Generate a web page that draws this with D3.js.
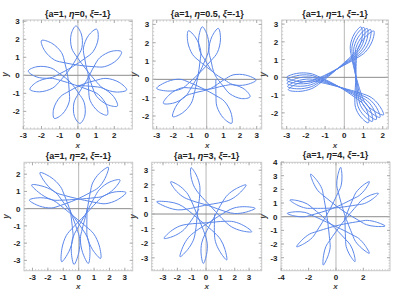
<!DOCTYPE html>
<html>
<head>
<meta charset="utf-8">
<script src="https://cdn.jsdelivr.net/npm/d3@7"></script>
<style>
body{margin:0;background:#fff;}
text{font-family:"Liberation Sans",Arial,sans-serif;}
</style>
</head>
<body>
<svg id="plots" width="407" height="301"></svg>
<script>
// eta value in each title
const etas = ["0", "0.5", "1", "2", "3", "4"];

// tick labels per panel
const xTicks1 = [-3, -2, -1, 0, 1, 2], yTicks1 = [-2, -1, 0, 1, 2, 3];
const xTicks2 = [-3, -2, -1, 0, 1, 2, 3], yTicks2 = [-2, -1, 0, 1, 2, 3];
const xTicks3 = [-3, -2, -1, 0, 1, 2], yTicks3 = [-2, -1, 0, 1, 2, 3];
const xTicks4 = [-3, -2, -1, 0, 1, 2, 3], yTicks4 = [-3, -2, -1, 0, 1, 2];
const xTicks5 = [-3, -2, -1, 0, 1, 2, 3], yTicks5 = [-3, -2, -1, 0, 1, 2, 3];
const xTicks6 = [-4, -2, 0, 2], yTicks6 = [-3, -2, -1, 0, 1, 2, 3, 4];

// curve points, in drawing order: [angle in degrees, distance from origin]
// each petal: crossing, side, side, tip, side, side, crossing, then the closest pass to the centre
const curve1 = [
  [268.9,.56],
  [321.9,1],[332.4,1.55],[328.9,2.3],[321.9,2.76],[314.9,2.3],[311.4,1.55],[321.9,1],[15,.56],
  [68.1,1],[78.6,1.55],[75.1,2.3],[68.1,2.76],[61.1,2.3],[57.6,1.55],[68.1,1],[121.6,.56],
  [175,1],[185.5,1.55],[182,2.3],[175,2.74],[168,2.3],[164.5,1.55],[175,1],[223.7,.56],
  [272.4,1],[282.9,1.55],[279.4,2.3],[272.4,2.67],[265.4,2.3],[261.9,1.55],[272.4,1],[330.5,.56],
  [28.6,1],[39.1,1.55],[35.6,2.3],[28.6,2.73],[21.6,2.3],[18.1,1.55],[28.6,1],[82.3,.56],
  [136,1],[146.5,1.55],[143,2.3],[136,2.78],[129,2.3],[125.5,1.55],[136,1],[188.8,.56],
  [241.5,1],[252,1.55],[248.5,2.3],[241.5,2.72],[234.5,2.3],[231,1.55],[241.5,1],[292.4,.56],
  [343.2,1],[353.7,1.55],[350.2,2.3],[343.2,2.8],[336.2,2.3],[332.7,1.55],[343.2,1],[37.8,.56],
  [92.3,1],[102.8,1.55],[99.3,2.3],[92.3,2.74],[85.3,2.3],[81.8,1.55],[92.3,1],[144.4,.56],
  [196.5,1],[207,1.55],[203.5,2.3],[196.5,2.75],[189.5,2.3],[186,1.55],[196.5,1],[251.4,.56],
  [306.2,1],[316.7,1.55],[313.2,2.3],[306.2,2.73],[299.2,2.3],[295.7,1.55],[306.2,1],[359.2,.56]
];
const curve2 = [
  [55,.55],
  [112.5,1.05],[122,1.6],[119,2.35],[112.5,2.87],[106,2.35],[103,1.6],[112.5,1.05],[168.8,.55],
  [225,1.05],[234.5,1.6],[231.5,2.35],[225,2.88],[218.5,2.35],[215.5,1.6],[225,1.05],[292.1,.55],
  [359.2,1.05],[8.7,1.6],[5.7,2.35],[359.2,2.96],[352.7,2.35],[349.7,1.6],[359.2,1.05],[47.2,.55],
  [95.2,1.05],[104.7,1.6],[101.7,2.35],[95.2,2.88],[88.7,2.35],[85.7,1.6],[95.2,1.05],[151,.55],
  [206.7,1.05],[216.2,1.6],[213.2,2.35],[206.7,2.91],[200.2,2.35],[197.2,1.6],[206.7,1.05],[273.3,.55],
  [339.9,1.05],[349.4,1.6],[346.4,2.35],[339.9,2.77],[333.4,2.35],[330.4,1.6],[339.9,1.05],[27.9,.55],
  [75.9,1.05],[85.4,1.6],[82.4,2.35],[75.9,2.87],[69.4,2.35],[66.4,1.6],[75.9,1.05],[132.6,.55],
  [189.3,1.05],[198.8,1.6],[195.8,2.35],[189.3,3.04],[182.8,2.35],[179.8,1.6],[189.3,1.05],[245.7,.55],
  [302,1.05],[311.5,1.6],[308.5,2.35],[302,2.83],[295.5,2.35],[292.5,1.6],[302,1.05],[359.5,.55]
];
const curve3 = [
  [359.5,.6],
  [59.5,1.25],[66.5,1.8],[64.5,2.5],[59.5,3.03],[54.5,2.5],[52.5,1.8],[59.5,1.25],[119.8,.6],
  [180,1.25],[187,1.8],[185,2.5],[180,3],[175,2.5],[173,1.8],[180,1.25],[238,.6],
  [296,1.25],[303,1.8],[301,2.4],[296,2.85],[291,2.4],[289,1.8],[296,1.25],[359.5,.6],
  [63,1.25],[70,1.8],[68,2.5],[63,3.02],[58,2.5],[56,1.8],[63,1.25],[123,.6],
  [183,1.25],[190,1.8],[188,2.5],[183,3],[178,2.5],[176,1.8],[183,1.25],[241.8,.6],
  [300.5,1.25],[307.5,1.8],[305.5,2.4],[300.5,2.88],[295.5,2.4],[293.5,1.8],[300.5,1.25],[3.5,.6],
  [66.5,1.25],[73.5,1.8],[71.5,2.5],[66.5,3],[61.5,2.5],[59.5,1.8],[66.5,1.25],[126.5,.6],
  [186.5,1.25],[193.5,1.8],[191.5,2.5],[186.5,3],[181.5,2.5],[179.5,1.8],[186.5,1.25],[245.8,.6],
  [305,1.25],[312,1.8],[310,2.4],[305,2.9],[300,2.4],[298,1.8],[305,1.25],[7.5,.6],
  [70,1.25],[77,1.8],[75,2.5],[70,2.99],[65,2.5],[63,1.8],[70,1.25],[130,.6],
  [190,1.25],[197,1.8],[195,2.5],[190,3],[185,2.5],[183,1.8],[190,1.25],[249.8,.6],
  [309.5,1.25],[316.5,1.8],[314.5,2.4],[309.5,2.92],[304.5,2.4],[302.5,1.8],[309.5,1.25],[11.3,.6],
  [73,1.25],[80,1.8],[78,2.5],[73,2.97],[68,2.5],[66,1.8],[73,1.25],[133.3,.6],
  [193.5,1.25],[200.5,1.8],[198.5,2.5],[193.5,3],[188.5,2.5],[186.5,1.8],[193.5,1.25],[253.8,.6],
  [314,1.25],[321,1.8],[319,2.4],[314,2.94],[309,2.4],[307,1.8],[314,1.25],[14,.6]
];
const curve4 = [
  [187.8,.55],
  [250.3,1.2],[257.8,1.75],[255.8,2.55],[250.3,3.27],[244.8,2.55],[242.8,1.75],[250.3,1.2],[313.6,.55],
  [16.9,1.2],[24.4,1.75],[22.4,2.55],[16.9,3.21],[11.4,2.55],[9.4,1.75],[16.9,1.2],[78.6,.55],
  [140.2,1.2],[147.7,1.75],[145.7,2.55],[140.2,3.27],[134.7,2.55],[132.7,1.75],[140.2,1.2],[202.5,.55],
  [264.7,1.2],[272.2,1.75],[270.2,2.55],[264.7,3.25],[259.2,2.55],[257.2,1.75],[264.7,1.2],[328.3,.55],
  [31.9,1.2],[39.4,1.75],[37.4,2.55],[31.9,3.16],[26.4,2.55],[24.4,1.75],[31.9,1.2],[93.8,.55],
  [155.7,1.2],[163.2,1.75],[161.2,2.55],[155.7,3.35],[150.2,2.55],[148.2,1.75],[155.7,1.2],[218.5,.55],
  [281.2,1.2],[288.7,1.75],[286.7,2.55],[281.2,3.24],[275.7,2.55],[273.7,1.75],[281.2,1.2],[346.2,.55],
  [51.2,1.2],[58.7,1.75],[56.7,2.45],[51.2,3.08],[45.7,2.45],[43.7,1.75],[51.2,1.2],[111.2,.55],
  [171.1,1.2],[178.6,1.75],[176.6,2.55],[171.1,3.24],[165.6,2.55],[163.6,1.75],[171.1,1.2],[233.7,.55],
  [296.3,1.2],[303.8,1.75],[301.8,2.55],[296.3,3.22],[290.8,2.55],[288.8,1.75],[296.3,1.2],[358.8,.55]
];
const curve5 = [
  [145,.6],
  [209.7,1.4],[215.2,2],[213.7,2.75],[209.7,3.37],[205.7,2.75],[204.2,2],[209.7,1.4],[274.5,.6],
  [339.2,1.4],[344.7,2],[343.2,2.75],[339.2,3.41],[335.2,2.75],[333.7,2],[339.2,1.4],[43.8,.6],
  [108.3,1.4],[113.8,2],[112.3,2.75],[108.3,3.34],[104.3,2.75],[102.8,2],[108.3,1.4],[173.3,.6],
  [238.2,1.4],[243.7,2],[242.2,2.75],[238.2,3.44],[234.2,2.75],[232.7,2],[238.2,1.4],[302.4,.6],
  [6.5,1.4],[12,2],[10.5,2.75],[6.5,3.44],[2.5,2.75],[1,2],[6.5,1.4],[72.4,.6],
  [138.2,1.4],[143.7,2],[142.2,2.75],[138.2,3.31],[134.2,2.75],[132.7,2],[138.2,1.4],[202.5,.6],
  [266.8,1.4],[272.3,2],[270.8,2.75],[266.8,3.39],[262.8,2.75],[261.3,2],[266.8,1.4],[331.2,.6],
  [35.5,1.4],[41,2],[39.5,2.75],[35.5,3.43],[31.5,2.75],[30,2],[35.5,1.4],[100.9,.6],
  [166.3,1.4],[171.8,2],[170.3,2.75],[166.3,3.54],[162.3,2.75],[160.8,2],[166.3,1.4],[230.5,.6],
  [294.6,1.4],[300.1,2],[298.6,2.75],[294.6,3.46],[290.6,2.75],[289.1,2],[294.6,1.4],[359.3,.6]
];
const curve6 = [
  [340.1,.65],
  [46.4,1.8],[50.4,2.3],[49.4,3],[46.4,3.54],[43.4,3],[42.4,2.3],[46.4,1.8],[111.3,.65],
  [176.1,1.8],[180.1,2.3],[179.1,3],[176.1,3.57],[173.1,3],[172.1,2.3],[176.1,1.8],[244.2,.65],
  [312.3,1.8],[316.3,2.3],[315.3,3],[312.3,3.62],[309.3,3],[308.3,2.3],[312.3,1.8],[18.5,.65],
  [84.6,1.8],[88.6,2.3],[87.6,3],[84.6,3.63],[81.6,3],[80.6,2.3],[84.6,1.8],[151,.65],
  [217.4,1.8],[221.4,2.3],[220.4,3],[217.4,3.62],[214.4,3],[213.4,2.3],[217.4,1.8],[283.4,.65],
  [349.3,1.8],[353.3,2.3],[352.3,3],[349.3,3.65],[346.3,3],[345.3,2.3],[349.3,1.8],[55,.65],
  [120.7,1.8],[124.7,2.3],[123.7,3],[120.7,3.63],[117.7,3],[116.7,2.3],[120.7,1.8],[188,.65],
  [255.3,1.8],[259.3,2.3],[258.3,3],[255.3,3.66],[252.3,3],[251.3,2.3],[255.3,1.8],[322.1,.65],
  [28.9,1.8],[32.9,2.3],[31.9,3],[28.9,3.54],[25.9,3],[24.9,2.3],[28.9,1.8],[94.5,.65],
  [160.1,1.8],[164.1,2.3],[163.1,3],[160.1,3.58],[157.1,3],[156.1,2.3],[160.1,1.8],[226.5,.65],
  [292.9,1.8],[296.9,2.3],[295.9,3],[292.9,3.57],[289.9,3],[288.9,2.3],[292.9,1.8],[359.2,.65]
];

// frame box and plot range of every panel
const panels = [
  {eta: etas[0], pts: curve1, xt: xTicks1, yt: yTicks1, left: 23.3, top: 20, w: 109, h: 109, xd: [-3.0, 2.99], yd: [-2.98, 3.07], tt: 3.5},
  {eta: etas[1], pts: curve2, xt: xTicks2, yt: yTicks2, left: 152.7, top: 20, w: 109, h: 109, xd: [-3.24, 3.3], yd: [-2.71, 3.24], tt: 3.5},
  {eta: etas[2], pts: curve3, xt: xTicks3, yt: yTicks3, left: 281.7, top: 20, w: 106.6, h: 109, xd: [-3.26, 2.29], yd: [-2.91, 3.23], tt: 3.5},
  {eta: etas[3], pts: curve4, xt: xTicks4, yt: yTicks4, left: 24, top: 162.3, w: 108.7, h: 108.4, xd: [-3.55, 3.51], yd: [-3.6, 2.69], tt: 3.5},
  {eta: etas[4], pts: curve5, xt: xTicks5, yt: yTicks5, left: 151.7, top: 162.3, w: 110, h: 108.4, xd: [-3.79, 3.88], yd: [-3.88, 3.54], tt: 3.5},
  {eta: etas[5], pts: curve6, xt: xTicks6, yt: yTicks6, left: 281, top: 162.3, w: 109, h: 108.4, xd: [-4.02, 3.95], yd: [-3.95, 3.98], tt: 4.8}
];

const svg = d3.select("#plots");
svg.append("rect").attr("width", 407).attr("height", 301).attr("fill", "white");

panels.forEach(p => {
  const x = d3.scaleLinear().domain(p.xd).range([p.left, p.left + p.w]);
  const y = d3.scaleLinear().domain(p.yd).range([p.top + p.h, p.top]);
  const g = svg.append("g");
  const bottom = p.top + p.h, right = p.left + p.w;

  // axes through the origin
  g.append("line").attr("x1", x(0)).attr("x2", x(0)).attr("y1", p.top).attr("y2", bottom)
    .attr("stroke", "#b8b8b8").attr("stroke-width", 1);
  g.append("line").attr("x1", p.left).attr("x2", right).attr("y1", y(0)).attr("y2", y(0))
    .attr("stroke", "#8c8c8c").attr("stroke-width", 1);

  // the curve
  const rad = Math.PI / 180;
  const line = d3.line()
    .x(d => x(d[1] * Math.cos(d[0] * rad)))
    .y(d => y(d[1] * Math.sin(d[0] * rad)))
    .curve(d3.curveCatmullRom.alpha(0.5));
  g.append("path").attr("d", line(p.pts)).attr("fill", "none")
    .attr("stroke", "#5b87ea").attr("stroke-width", 1);

  // frame
  g.append("rect").attr("x", p.left).attr("y", p.top).attr("width", p.w).attr("height", p.h)
    .attr("fill", "none").attr("stroke", "#c8c8c8").attr("stroke-width", 1);

  // minor and major ticks, pointing inward on all four sides
  const tick = (x1, y1, x2, y2, c) => g.append("line").attr("x1", x1).attr("y1", y1).attr("x2", x2).attr("y2", y2)
    .attr("stroke", c).attr("stroke-width", 1);
  x.ticks(30).forEach(v => { tick(x(v), bottom, x(v), bottom - 1.5, "#c8c8c8"); tick(x(v), p.top, x(v), p.top + 1.5, "#c8c8c8"); });
  y.ticks(30).forEach(v => { tick(p.left, y(v), p.left + 1.5, y(v), "#c8c8c8"); tick(right, y(v), right - 1.5, y(v), "#c8c8c8"); });
  p.xt.forEach(v => { tick(x(v), bottom, x(v), bottom - 3, "#aaa"); tick(x(v), p.top, x(v), p.top + 3, "#aaa"); });
  p.yt.forEach(v => { tick(p.left, y(v), p.left + 3, y(v), "#aaa"); tick(right, y(v), right - 3, y(v), "#aaa"); });

  // tick labels
  g.selectAll(".xl").data(p.xt).enter().append("text")
    .attr("x", d => x(d)).attr("y", bottom + 9).attr("text-anchor", "middle")
    .attr("font-size", 8).attr("font-weight", "bold").attr("fill", "#222")
    .text(d => d);
  g.selectAll(".yl").data(p.yt).enter().append("text")
    .attr("x", p.left - 3.5).attr("y", d => y(d) + 3).attr("text-anchor", "end")
    .attr("font-size", 8).attr("font-weight", "bold").attr("fill", "#222")
    .text(d => d);

  // axis names
  g.append("text").attr("x", (p.left + right) / 2).attr("y", bottom + 18.5).attr("text-anchor", "middle")
    .attr("font-size", 8).attr("font-style", "italic").attr("font-weight", "bold").attr("fill", "#444").text("x");
  g.append("text").attr("transform", `translate(${p.left - 15.5},${(p.top + bottom) / 2}) rotate(-90)`)
    .attr("text-anchor", "middle").attr("font-size", 8.5).attr("font-style", "italic").attr("font-weight", "bold")
    .attr("fill", "#444").text("y");

  // title
  const t = g.append("text").attr("x", (p.left + right) / 2).attr("y", p.top - p.tt).attr("text-anchor", "middle")
    .attr("font-size", 9).attr("font-weight", "bold").attr("fill", "#222");
  t.append("tspan").text("{a=1, ");
  t.append("tspan").attr("font-style", "italic").text("\u03b7");
  t.append("tspan").text("=" + p.eta + ", ");
  t.append("tspan").attr("font-style", "italic").text("\u03be");
  t.append("tspan").text("=-1}");
});
</script>
</body>
</html>
